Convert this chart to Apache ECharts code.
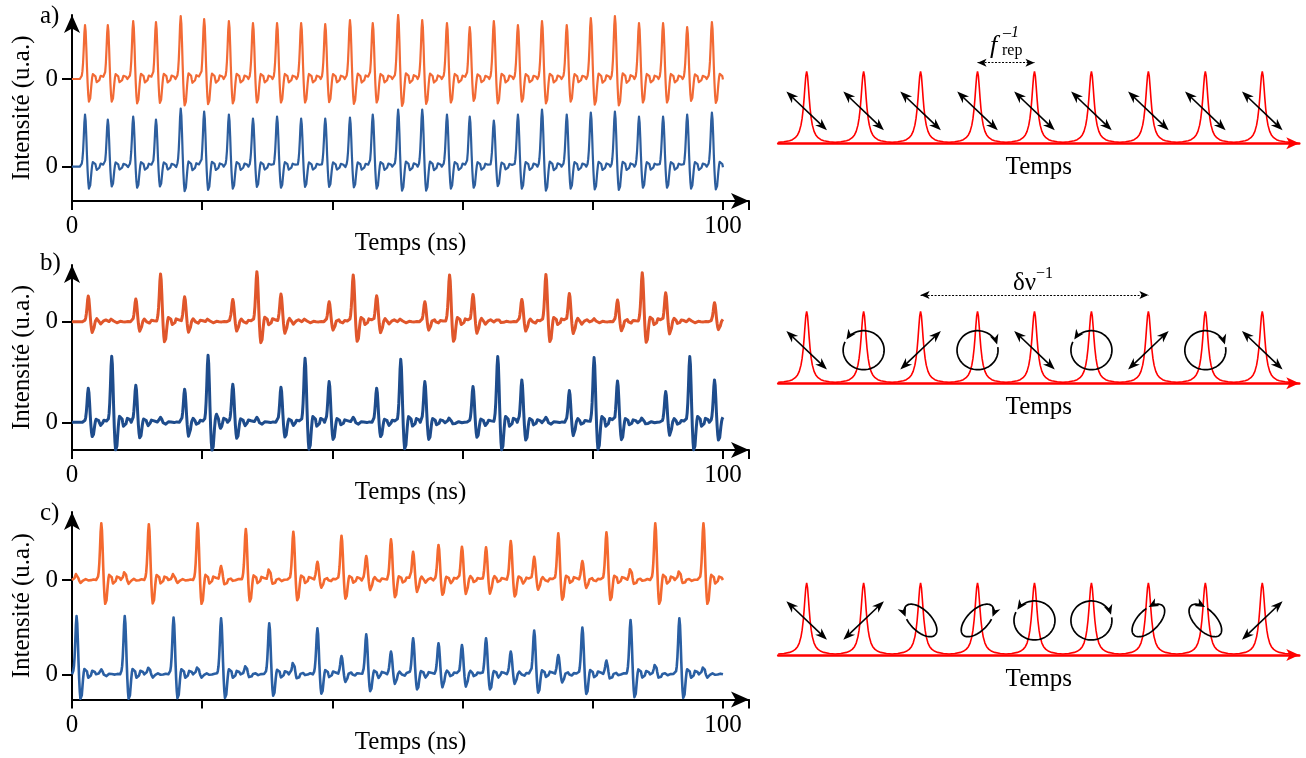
<!DOCTYPE html>
<html><head><meta charset="utf-8">
<script src="https://cdn.jsdelivr.net/npm/echarts@6/dist/echarts.min.js"></script>
<style>html,body{margin:0;padding:0;background:#fff}#c{width:1306px;height:758px}</style>
</head><body><div id="c"></div>
<script>
// ---------- DATA ----------
// pulse arrival times (ns) and peak heights (u.a.)
const timesA = [2.00,5.53,9.37,12.90,16.74,20.28,24.12,27.80,31.49,35.18,38.86,42.70,46.24,50.08,53.76,57.60,61.14,64.82,68.51,72.20,76.04,79.72,83.41,87.10,90.78,94.47,98.31];
const orangeA = [54,54,58,57,63,60,58,56,56,56,55,59,56,64,59,56,52,58,54,58,54,61,63,56,56,52,57];
const blueA   = [52,47,50,47,58,55,52,48,50,48,48,49,52,57,57,52,50,46,52,57,52,54,55,50,50,52,54];

const timesB = [2.50,6.14,9.83,13.63,17.25,20.89,24.69,28.37,32.10,35.79,39.52,43.21,46.80,50.54,54.22,57.96,61.64,65.36,69.08,72.76,76.39,80.18,83.82,87.60,91.24,94.93,98.66];
const orangeB = [25.7,3,22.7,47.7,25,3,22.3,50,27.7,3,20,46.7,26,3,20,46.7,27.3,3,22.3,47.3,28.3,3,21.7,49,29,3,19];
const blueB   = [34,66,37,5,33,67,38,5,35,64,40.7,5,34,63,40.7,5,35.7,65.7,42.3,5,31.7,64.7,41.3,5,30.7,65.7,42.3];

const timesC = [0.72,4.45,8.14,11.83,15.56,19.25,22.89,26.68,30.31,33.99,37.74,41.43,45.16,48.96,52.43,56.27,59.86,63.59,67.39,70.97,74.70,78.39,82.14,85.82,89.55,93.29,96.97];
const orangeC = [7,56.7,9,55.7,7,56.7,14,51,12.3,48.3,18.3,44.3,24,40.7,28.3,35,33.3,32.7,39,23.3,46.7,19,47.7,12.7,56.7,10,56.7];
const blueC   = [58.3,5,58.3,7.7,56.7,8,56,9.3,51,13.3,46,18.3,40,22.7,36,31,29.3,36,22.7,43.7,19.3,46.7,13.7,54.3,11,56,8];

// single detected pulse shape (normalised), sampled every 0.1 ns, peak at index 7
const pulseShape = [0,0.02,0.06,0.14,0.3,0.55,0.85,1.0,0.88,0.58,0.22,-0.08,-0.3,-0.42,-0.44,-0.36,-0.22,-0.08,0.03,0.09,0.12,0.12,0.1,0.05,-0.01,-0.06,-0.09,-0.09,-0.06,-0.02,0.02,0.06,0.08,0.08,0.07,0.04,0.02,0,-0.01,-0.01,0];
const PEAK_INDEX = 7;

const xTickLabels = ['0','100'];

// schematic pulse trains (right)
const peakPos = [1,2,3,4,5,6,7,8,9];
const lorOff = [-0.5,-0.4,-0.3,-0.25,-0.2,-0.16,-0.13,-0.1,-0.08,-0.06,-0.045,-0.03,-0.015,0,0.015,0.03,0.045,0.06,0.08,0.1,0.13,0.16,0.2,0.25,0.3,0.4,0.5];
const lorVal = [0.013,0.021,0.036,0.051,0.078,0.116,0.166,0.252,0.345,0.483,0.624,0.789,0.937,1,0.937,0.789,0.624,0.483,0.345,0.252,0.166,0.116,0.078,0.051,0.036,0.021,0.013];
const polA = ['L\\','L\\','L\\','L\\','L\\','L\\','L\\','L\\','L\\'];
const polB = ['L\\','C-','L/','C+','L\\','C-','L/','C+','L\\'];
const polC = ['L\\','L/','E\\-','E/+','C-','C+','E/-','E\\+','L/'];

// ---------- BUILD ----------
function trace(times, amps, offset){
  const n = 1001, arr = new Array(n).fill(0);
  for (let k=0;k<times.length;k++){
    const c = Math.round(times[k]*10);
    for (let j=0;j<pulseShape.length;j++){
      const idx = c - PEAK_INDEX + j;
      if (idx>=0 && idx<n) arr[idx] += amps[k]*pulseShape[j];
    }
  }
  return arr.map((v,i)=>[+(i/10).toFixed(1), +(v+offset).toFixed(2)]);
}
function peaks(){
  const d=[];
  peakPos.forEach(p=>lorOff.forEach((o,k)=>d.push([+(p+o).toFixed(3), lorVal[k]])));
  return d;
}

const FONT = 'Liberation Serif, "Times New Roman", serif';
const panels = [
  {top:15,  h:186,   min:-34.3, max:151.7, off:87.7,  ta:timesA, o:orangeA, b:blueA, oc:'#F26A35', bc:'#2D5E9E', lw:2.2},
  {top:265, h:185,   min:-27.7, max:157.3, off:100.6, ta:timesB, o:orangeB, b:blueB, oc:'#E0562B', bc:'#1E4C8C', lw:3},
  {top:512, h:187.5, min:-25.2, max:162.3, off:94.3,  ta:timesC, o:orangeC, b:blueC, oc:'#F4692F', bc:'#2A5FA3', lw:2.6}
];
const rights = [
  {bottom:143.3, pol:polA, symY:0.45},
  {bottom:383.3, pol:polB, symY:0.46},
  {bottom:655,   pol:polC, symY:0.48}
];
const RH = 1.3*72;

const grid=[], xAxis=[], yAxis=[], series=[];
panels.forEach((p,i)=>{
  grid.push({left:72, top:p.top, width:677, height:p.h, containLabel:false, outerBoundsMode:'none'});
  xAxis.push({gridIndex:i, type:'value', min:0, max:104, interval:20,
    axisLine:{onZero:false, symbol:['none','arrow'], symbolSize:[12,18], lineStyle:{color:'#000', width:2}},
    axisTick:{length:9, lineStyle:{color:'#000', width:2}},
    axisLabel:{margin:13, color:'#000', fontFamily:FONT, fontSize:25,
      formatter:v=> v===0?xTickLabels[0]:(v===100?xTickLabels[1]:'')},
    splitLine:{show:false},
    name:'Temps (ns)', nameLocation:'middle', nameGap:30, nameMoveOverlap:false,
    nameTextStyle:{color:'#000', fontFamily:FONT, fontSize:25}});
  yAxis.push({gridIndex:i, type:'value', min:p.min, max:p.max,
    axisLine:{onZero:false, symbol:['none','arrow'], symbolSize:[12,18], lineStyle:{color:'#000', width:2}},
    axisTick:{length:10, customValues:[0,p.off], lineStyle:{color:'#000', width:2}},
    axisLabel:{margin:14, customValues:[0,p.off], color:'#000', fontFamily:FONT, fontSize:25, formatter:()=> '0'},
    splitLine:{show:false},
    name:'Intensité (u.a.)', nameLocation:'middle', nameGap:37, nameMoveOverlap:false,
    nameTextStyle:{color:'#000', fontFamily:FONT, fontSize:25}});
  series.push({type:'line', xAxisIndex:i, yAxisIndex:i, data:trace(p.ta,p.o,p.off), showSymbol:false,
    lineStyle:{color:p.oc, width:p.lw, join:'round'}, itemStyle:{color:p.oc}, silent:true});
  series.push({type:'line', xAxisIndex:i, yAxisIndex:i, data:trace(p.ta,p.b,0), showSymbol:false,
    lineStyle:{color:p.bc, width:p.lw, join:'round'}, itemStyle:{color:p.bc}, silent:true});
});

const ELL = {
  'C-':  {a:20.5,b:19.5,rot:0,  phi:213,dir:-1},
  'C+':  {a:20.5,b:19.5,rot:0,  phi:343,dir:1},
  'E\\-':{a:20.5,b:10.5,rot:45, phi:130,dir:-1},
  'E/+': {a:20.5,b:10.5,rot:-45,phi:50, dir:1},
  'E/-': {a:20.5,b:10.5,rot:-45,phi:298,dir:-1},
  'E\\+':{a:20.5,b:10.5,rot:45, phi:242,dir:1}
};
function head(px,py,dx,dy,L,W){
  const n=Math.hypot(dx,dy); dx/=n; dy/=n; const nx=-dy, ny=dx;
  return {type:'polygon', shape:{points:[[px,py],[px-L*dx+W*nx,py-L*dy+W*ny],[px-0.7*L*dx,py-0.7*L*dy],[px-L*dx-W*nx,py-L*dy-W*ny]]}, style:{fill:'#000'}};
}
function polRender(types){
  return function(params, api){
    const t = types[params.dataIndex];
    const c = api.coord([api.value(0), api.value(1)]);
    const ch=[];
    if (t[0]==='L'){
      const hx=20.3, hy=(t==='L\\')?19.3:-19.3;
      const ax=c[0]-hx, ay=c[1]-hy, bx=c[0]+hx, by=c[1]+hy;
      const len=Math.hypot(2*hx,2*hy), ux=2*hx/len, uy=2*hy/len;
      ch.push({type:'line', shape:{x1:ax+6*ux,y1:ay+6*uy,x2:bx-6*ux,y2:by-6*uy}, style:{stroke:'#000',lineWidth:1.6}});
      ch.push(head(bx,by,ux,uy,12,4.5));
      ch.push(head(ax,ay,-ux,-uy,12,4.5));
    } else {
      const e=ELL[t], th=e.rot*Math.PI/180, ct=Math.cos(th), st=Math.sin(th);
      const P=ph=>{const f=ph*Math.PI/180; return [c[0]+e.a*Math.cos(f)*ct-e.b*Math.sin(f)*st, c[1]+e.a*Math.cos(f)*st+e.b*Math.sin(f)*ct];};
      const T=ph=>{const f=ph*Math.PI/180; return [-e.a*Math.sin(f)*ct-e.b*Math.cos(f)*st, -e.a*Math.sin(f)*st+e.b*Math.cos(f)*ct];};
      const pts=[]; const N=80;
      for(let s=0;s<=N;s++){ const ph=e.phi-e.dir*(352-352*s/N) - e.dir*12*(s/N); pts.push(P(ph)); }
      ch.push({type:'polyline', shape:{points:pts}, style:{stroke:'#000', lineWidth:1.7, fill:null}});
      const tip=P(e.phi), tg=T(e.phi);
      ch.push(head(tip[0],tip[1],tg[0]*e.dir,tg[1]*e.dir,10,4.5));
    }
    return {type:'group', children:ch};
  };
}

rights.forEach((r,k)=>{
  const gi = 3+k;
  grid.push({left:778.2, top:r.bottom-RH, width:521.1, height:RH, containLabel:false, outerBoundsMode:'none'});
  xAxis.push({gridIndex:gi, type:'value', min:0.5, max:9.65,
    axisLine:{onZero:false, symbol:['none','arrow'], symbolSize:[9,13], lineStyle:{color:'#ff0000', width:2.5}},
    axisTick:{show:false}, axisLabel:{show:false}, splitLine:{show:false},
    name:'Temps', nameLocation:'middle', nameGap:12, nameMoveOverlap:false,
    nameTextStyle:{color:'#000', fontFamily:FONT, fontSize:25}});
  yAxis.push({gridIndex:gi, type:'value', min:0, max:1.3, show:false});
  const ps = {type:'line', xAxisIndex:gi, yAxisIndex:gi, data:peaks(), showSymbol:false, silent:true,
    lineStyle:{color:'#ff0000', width:1.6}, itemStyle:{color:'#ff0000'}, z:3};
  if (k===0) ps.markLine = {silent:true, symbol:['arrow','arrow'], symbolSize:[6,9], animation:false,
      lineStyle:{color:'#000', type:[2,1.5], width:1}, label:{show:false},
      data:[[{coord:[4,1.12]},{coord:[5,1.12]}]]};
  if (k===1) ps.markLine = {silent:true, symbol:['arrow','arrow'], symbolSize:[6,9], animation:false,
      lineStyle:{color:'#000', type:[2,1.5], width:1}, label:{show:false},
      data:[[{coord:[3,1.226]},{coord:[7,1.226]}]]};
  series.push(ps);
  series.push({type:'custom', xAxisIndex:gi, yAxisIndex:gi, data:peakPos.map(p=>[p,r.symY]),
    renderItem:polRender(r.pol), silent:true, z:5});
});

const txt=(x,y,s)=>({type:'text', x, y, style:{text:s, fill:'#000', font:'25px '+FONT, textVerticalAlign:'middle'}});
const graphic = [
  txt(40,16,'a)'), txt(40,263,'b)'), txt(40,513,'c)'),
  {type:'text', x:990, y:46, style:{text:'f', fill:'#000', font:'italic 26px '+FONT, textVerticalAlign:'middle'}},
  {type:'text', x:1003, y:33, style:{text:'–1', fill:'#000', font:'italic 16px '+FONT, textVerticalAlign:'middle'}},
  {type:'text', x:1002, y:51, style:{text:'rep', fill:'#000', font:'16px '+FONT, textVerticalAlign:'middle'}},
  {type:'text', x:1013, y:283, style:{text:'δν', fill:'#000', font:'25px '+FONT, textVerticalAlign:'middle'}},
  {type:'text', x:1036, y:274, style:{text:'−1', fill:'#000', font:'16px '+FONT, textVerticalAlign:'middle'}}
];

const chart = echarts.init(document.getElementById('c'), null, {renderer:'canvas'});
chart.setOption({animation:false, backgroundColor:'#fff', grid, xAxis, yAxis, series, graphic});
</script></body></html>
